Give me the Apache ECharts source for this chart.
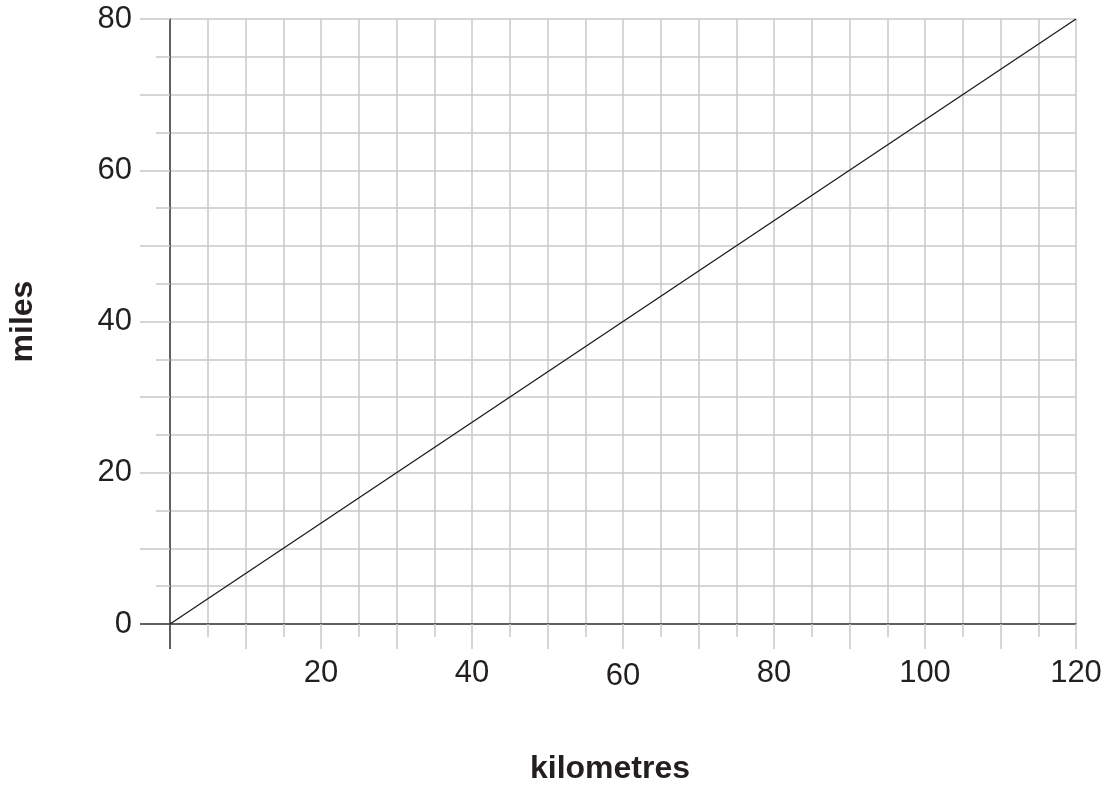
<!DOCTYPE html>
<html>
<head>
<meta charset="utf-8">
<script src="https://cdn.jsdelivr.net/npm/echarts@6/dist/echarts.min.js"></script>
<style>
html,body{margin:0;padding:0;background:#fff;}
#chart{width:1113px;height:789px;}
</style>
</head>
<body>
<div id="chart"></div>
<script>
// Data
var kilometres = [0, 120];
var miles = [0, 80];
var xTickLabels = [20, 40, 60, 80, 100, 120];
var yTickLabels = [0, 20, 40, 60, 80];
var xAxisName = 'kilometres';
var yAxisName = 'miles';

var points = kilometres.map(function (k, i) { return [k, miles[i]]; });

var font = '"Liberation Sans", Arial, Helvetica, sans-serif';
var gridGray = '#c8c8c8';
var axisDark = '#3a3a3a';
var textColor = '#231f20';

var chart = echarts.init(document.getElementById('chart'), null, {renderer: 'canvas'});
chart.setOption({
  animation: false,
  backgroundColor: '#fff',
  grid: {left: 170, right: 37, top: 19, bottom: 165, containLabel: false, outerBoundsMode: 'none'},
  xAxis: [{
    type: 'value', min: 0, max: 120, interval: 10, position: 'bottom',
    name: xAxisName, nameLocation: 'middle', nameGap: 129,
    nameTextStyle: {fontFamily: font, fontSize: 32, fontWeight: 'bold', color: textColor, padding: [0, 26, 0, 0]},
    axisLine: {show: true, onZero: false, lineStyle: {color: axisDark, width: 1.5}},
    axisTick: {show: true, length: 25, lineStyle: {color: gridGray, width: 1.5}},
    minorTick: {show: true, splitNumber: 2, length: 13, lineStyle: {color: gridGray, width: 1.5}},
    splitLine: {show: true, lineStyle: {color: gridGray, width: 1.5}},
    minorSplitLine: {show: true, lineStyle: {color: gridGray, width: 1.5}},
    axisLabel: {
      margin: 34, fontFamily: font, fontSize: 31, color: textColor,
      formatter: function (v) {
        if (xTickLabels.indexOf(v) < 0) return '';
        return v === 60 ? '{low|' + v + '}' : String(v);
      },
      rich: {low: {fontFamily: font, fontSize: 31, color: textColor, padding: [3, 0, 0, 0]}}
    },
    z: 2
  }, {
    type: 'value', min: 0, max: 120, position: 'bottom',
    axisLine: {show: false},
    axisTick: {show: true, customValues: [0], length: 25, lineStyle: {color: axisDark, width: 1.5}},
    axisLabel: {show: false},
    splitLine: {show: false},
    z: 3
  }],
  yAxis: [{
    type: 'value', min: 0, max: 80, interval: 10, position: 'left',
    name: yAxisName, nameLocation: 'middle', nameGap: 131, nameRotate: 90,
    nameTextStyle: {fontFamily: font, fontSize: 32, fontWeight: 'bold', color: textColor},
    axisLine: {show: true, onZero: false, lineStyle: {color: axisDark, width: 1.5}},
    axisTick: {show: true, length: 30, lineStyle: {color: gridGray, width: 1.5}},
    minorTick: {show: true, splitNumber: 2, length: 14, lineStyle: {color: gridGray, width: 1.5}},
    splitLine: {show: true, lineStyle: {color: gridGray, width: 1.5}},
    minorSplitLine: {show: true, lineStyle: {color: gridGray, width: 1.5}},
    axisLabel: {
      margin: 38, fontFamily: font, fontSize: 31, color: textColor,
      formatter: function (v) { return yTickLabels.indexOf(v) >= 0 ? String(v) : ''; }
    },
    z: 2
  }, {
    type: 'value', min: 0, max: 80, position: 'left',
    axisLine: {show: false},
    axisTick: {show: true, customValues: [0], length: 30, lineStyle: {color: axisDark, width: 1.5}},
    axisLabel: {show: false},
    splitLine: {show: false},
    z: 3
  }],
  series: [{
    type: 'line',
    xAxisIndex: 0, yAxisIndex: 0,
    data: points,
    showSymbol: false,
    symbol: 'none',
    lineStyle: {color: '#1a1a1a', width: 1.3},
    z: 5
  }]
});
</script>
</body>
</html>
